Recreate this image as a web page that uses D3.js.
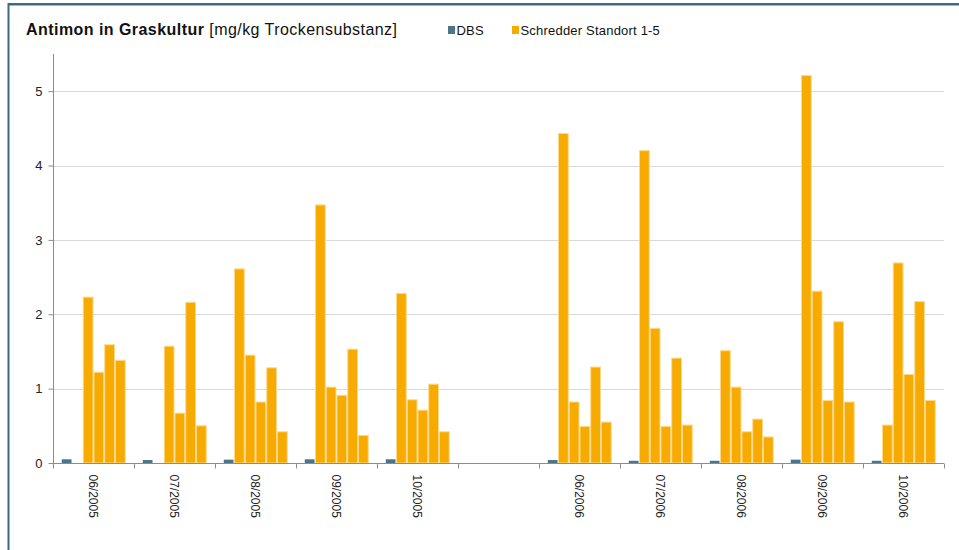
<!DOCTYPE html>
<html>
<head>
<meta charset="utf-8">
<script src="https://cdn.jsdelivr.net/npm/d3@7"></script>
<style>
    body { margin: 0; background: #fff; }
    svg { display: block; font-family: "Liberation Sans", Arial, sans-serif; }
</style>
</head>
<body>
<svg id="chart" width="959" height="550"></svg>
<script>
// categories (the empty one is the gap between the two years)
const months = ["06/2005", "07/2005", "08/2005", "09/2005", "10/2005", "",
    "06/2006", "07/2006", "08/2006", "09/2006", "10/2006"];

const dbs = [0.05, 0.04, 0.045, 0.05, 0.05, null, 0.04, 0.03, 0.03, 0.045, 0.03];
const standort1 = [null, null, 2.61, 3.47, 2.28, null, 4.43, 4.20, 1.51, 5.21, 0.51];
const standort2 = [2.23, 1.57, 1.45, 1.02, 0.85, null, 0.82, 1.81, 1.02, 2.31, 2.69];
const standort3 = [1.22, 0.67, 0.82, 0.91, 0.71, null, 0.49, 0.49, 0.42, 0.84, 1.19];
const standort4 = [1.59, 2.16, 1.28, 1.53, 1.06, null, 1.29, 1.41, 0.59, 1.90, 2.17];
const standort5 = [1.38, 0.50, 0.42, 0.37, 0.42, null, 0.55, 0.51, 0.35, 0.82, 0.84];

const yTicks = [0, 1, 2, 3, 4, 5];

const seriesNames = ["DBS", "S1", "S2", "S3", "S4", "S5"];
const seriesValues = [dbs, standort1, standort2, standort3, standort4, standort5];

const colDbs = "#4b7588";
const colOrange = "#f7aa00";

const svg = d3.select("#chart");

const margin = { top: 54, left: 53, right: 15, bottom: 87 };
const width = 959, height = 550;

// band keys have to be unique, so use the index
const x0 = d3.scaleBand()
    .domain(d3.range(months.length))
    .range([margin.left, width - margin.right])
    .paddingInner(0).paddingOuter(0);

const x1 = d3.scaleBand()
    .domain(seriesNames)
    .range([0, x0.bandwidth()])
    .paddingInner(0)
    .paddingOuter(0.77);

const y = d3.scaleLinear()
    .domain([0, 5.5])
    .range([height - margin.bottom, margin.top]);

// frame
svg.append("line").attr("x1", 8).attr("x2", width).attr("y1", 5.5).attr("y2", 5.5)
    .attr("stroke", "#a9b3b8").attr("stroke-width", 1);
svg.append("line").attr("x1", 8).attr("x2", width).attr("y1", 4).attr("y2", 4)
    .attr("stroke", "#3f6b81").attr("stroke-width", 2);
svg.append("line").attr("x1", 8.5).attr("x2", 8.5).attr("y1", 3).attr("y2", height)
    .attr("stroke", "#3f6b81").attr("stroke-width", 2);

// title
const title = svg.append("text")
    .attr("x", 26).attr("y", 35)
    .attr("font-size", 16)
    .attr("letter-spacing", 0.45)
    .attr("fill", "#111");
title.append("tspan").attr("font-weight", "bold").text("Antimon in Graskultur");
title.append("tspan").text(" [mg/kg Trockensubstanz]");

// legend
const legend = svg.append("g").attr("font-size", 13).attr("letter-spacing", 0.2).attr("fill", "#111");
const legendItems = [
    { label: "DBS", color: colDbs, x: 448 },
    { label: "Schredder Standort 1-5", color: colOrange, x: 512 }
];
legendItems.forEach(d => {
    legend.append("rect").attr("x", d.x).attr("y", 26).attr("width", 7).attr("height", 8)
        .attr("fill", d.color);
    legend.append("text").attr("x", d.x + 8.5).attr("y", 34.5).text(d.label);
});

// grid lines
svg.append("g")
    .selectAll("line")
    .data(yTicks.filter(t => t > 0))
    .join("line")
    .attr("x1", margin.left).attr("x2", width - margin.right)
    .attr("y1", d => Math.round(y(d)) + 0.5).attr("y2", d => Math.round(y(d)) + 0.5)
    .attr("stroke", "#d9d9d9");

// bars
const groups = svg.append("g")
    .selectAll("g")
    .data(months.map((m, i) => i))
    .join("g")
    .attr("transform", i => `translate(${x0(i)},0)`);

groups.selectAll("rect")
    .data(i => seriesNames.map((s, k) => ({ series: s, value: seriesValues[k][i] }))
        .filter(d => d.value != null))
    .join("rect")
    .attr("x", d => x1(d.series) + 0.5)
    .attr("width", x1.bandwidth() - 1)
    .attr("y", d => y(d.value))
    .attr("height", d => y(0) - y(d.value))
    .attr("fill", d => d.series === "DBS" ? colDbs : colOrange)
    .attr("stroke", d => d.series === "DBS" ? "none" : "#fcd88a")
    .attr("stroke-width", 1);

// y axis
const yAxis = svg.append("g")
    .attr("transform", `translate(${margin.left + 0.5},0)`)
    .call(d3.axisLeft(y).tickValues(yTicks).tickSize(5).tickPadding(6).tickFormat(d3.format("d")));
yAxis.select(".domain").attr("stroke", "#8c8c8c").attr("d", `M0,${margin.top}V${y(0)}`);
yAxis.selectAll(".tick line").attr("stroke", "#8c8c8c");
yAxis.selectAll("text").attr("font-size", 13).attr("fill", "#222")
    .attr("font-family", "'Liberation Sans', Arial, sans-serif");

// x axis: ticks between categories, labels rotated
const xAxis = svg.append("g").attr("transform", `translate(0,${Math.round(y(0)) + 0.5})`);
xAxis.append("line")
    .attr("x1", margin.left).attr("x2", width - margin.right)
    .attr("stroke", "#8c8c8c");
xAxis.selectAll("line.tk")
    .data(d3.range(months.length + 1))
    .join("line")
    .attr("class", "tk")
    .attr("x1", i => Math.round(margin.left + i * x0.bandwidth()) + 0.5)
    .attr("x2", i => Math.round(margin.left + i * x0.bandwidth()) + 0.5)
    .attr("y1", 0).attr("y2", 5)
    .attr("stroke", "#8c8c8c");
xAxis.selectAll("text")
    .data(months.map((m, i) => i))
    .join("text")
    .attr("transform", i => `translate(${x0(i) + x0.bandwidth() / 2},11) rotate(90)`)
    .attr("dy", "0.35em")
    .attr("font-size", 12)
    .attr("fill", "#222")
    .text(i => months[i]);
</script>
</body>
</html>
